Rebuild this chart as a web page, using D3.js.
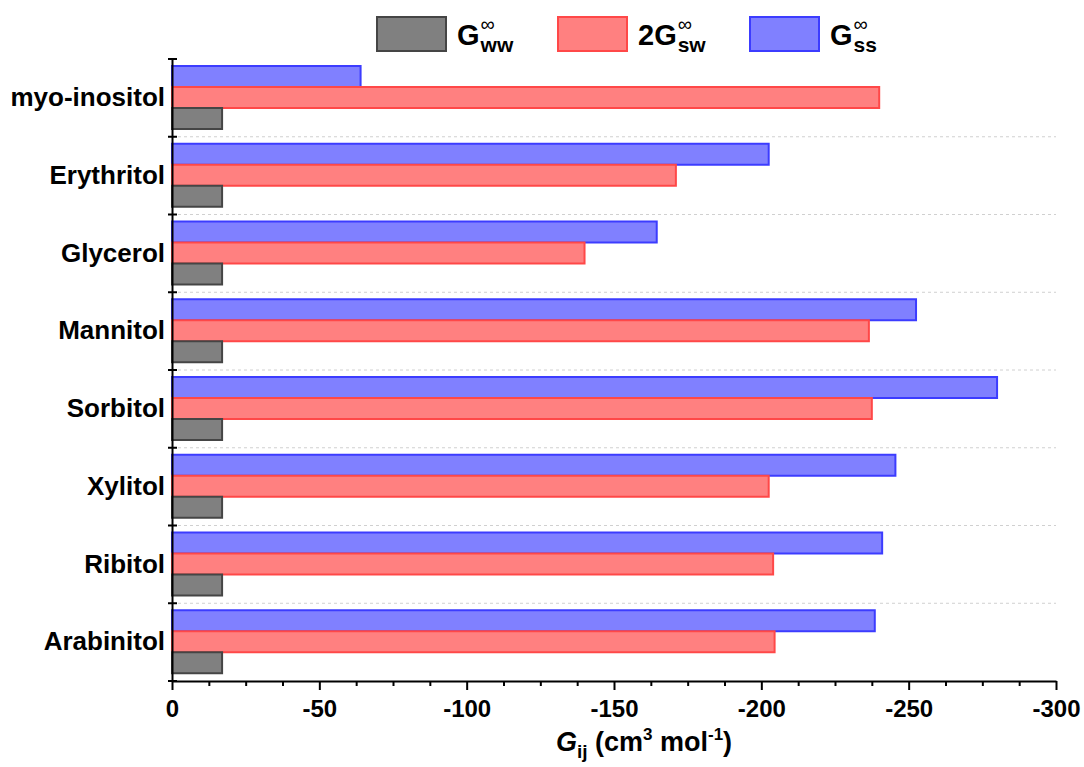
<!DOCTYPE html>
<html lang="en">
<head>
    <meta charset="UTF-8">
    <title>Kirkwood-Buff integrals</title>
    <script src="https://d3js.org/d3.v7.min.js"></script>
    <style>
        body { margin: 0; background: #fff; }
        text { font-family: "Liberation Sans", Arial, sans-serif; font-weight: bold; fill: #000; }
        .axis path, .axis line { stroke: #000; stroke-width: 2px; }
        .grid { stroke: #d0d0d0; stroke-width: 1px; stroke-dasharray: 3,3; }
    </style>
</head>
<body>
    <svg width="1084" height="767"></svg>
    <script>
        // values (cm3/mol)
        const categories = ["myo-inositol", "Erythritol", "Glycerol", "Mannitol", "Sorbitol", "Xylitol", "Ribitol", "Arabinitol"];
        const gww = [-17, -17, -17, -17, -17, -17, -17, -17];
        const gsw2 = [-240, -171, -140, -236.5, -237.5, -202.5, -204, -204.5];
        const gss = [-64, -202.5, -164.5, -252.5, -280, -245.5, -241, -238.5];
        const xTicks = [0, -50, -100, -150, -200, -250, -300];

        const series = [
            { key: "ss", values: gss, fill: "#8080ff", stroke: "#3c3cff" },
            { key: "sw", values: gsw2, fill: "#ff8080", stroke: "#ff4848" },
            { key: "ww", values: gww, fill: "#808080", stroke: "#454545" }
        ];

        const svg = d3.select("svg");
        const mLeft = 172, mRight = 1056, mTop = 59, mBottom = 681;

        const x = d3.scaleLinear().domain([0, -300]).range([mLeft, mRight]);
        const y = d3.scaleBand().domain(categories).range([mTop, mBottom]).padding(0);
        const inner = d3.scaleBand().domain(series.map(s => s.key)).range([7, 70]);

        // dotted separators between categories
        svg.append("g").selectAll("line")
            .data(categories.slice(1))
            .join("line")
            .attr("class", "grid")
            .attr("x1", mLeft).attr("x2", mRight)
            .attr("y1", d => y(d)).attr("y2", d => y(d));

        // bars
        series.forEach(s => {
            svg.append("g").selectAll("rect")
                .data(categories)
                .join("rect")
                .attr("x", mLeft)
                .attr("y", d => y(d) + inner(s.key))
                .attr("width", (d, i) => x(s.values[i]) - mLeft)
                .attr("height", inner.bandwidth())
                .attr("fill", s.fill)
                .attr("stroke", s.stroke)
                .attr("stroke-width", 2);
        });

        // x axis, major + minor ticks
        const minor = d3.range(0, -300.1, -12.5).filter(v => v % 50 !== 0);
        svg.append("g")
            .attr("class", "axis")
            .attr("transform", `translate(0,${mBottom})`)
            .call(d3.axisBottom(x).tickValues(minor).tickSize(5).tickFormat(""))
            .call(g => g.select(".domain").remove());
        svg.append("g")
            .attr("class", "axis")
            .attr("transform", `translate(0,${mBottom})`)
            .call(d3.axisBottom(x).tickValues(xTicks).tickSize(9).tickSizeOuter(0).tickPadding(7)
                .tickFormat(d => String(d)))
            .call(g => g.selectAll("text").style("font-size", "24px").attr("dy", "0.85em"));

        // y axis: labels centred on bands, ticks on band edges
        svg.append("g")
            .attr("class", "axis")
            .attr("transform", `translate(${mLeft},0)`)
            .call(d3.axisLeft(y).tickSize(0).tickPadding(7).tickSizeOuter(0))
            .call(g => g.selectAll("text").style("font-size", "26px"));
        svg.append("g").selectAll("line")
            .data(categories.map(c => y(c)).concat([mBottom]))
            .join("line")
            .attr("x1", mLeft - 4).attr("x2", mLeft + 5)
            .attr("y1", d => d).attr("y2", d => d)
            .attr("stroke", "#000").attr("stroke-width", 2);

        // axis title
        const title = svg.append("text")
            .attr("x", 644)
            .attr("y", 751)
            .attr("text-anchor", "middle")
            .style("font-size", "27px");
        title.append("tspan").style("font-style", "italic").text("G");
        title.append("tspan").attr("dy", 7).style("font-size", "19px").text("ij");
        title.append("tspan").attr("dy", -7).text(" (cm");
        title.append("tspan").attr("dy", -11).style("font-size", "17px").text("3");
        title.append("tspan").attr("dy", 11).text(" mol");
        title.append("tspan").attr("dy", -11).style("font-size", "17px").text("-1");
        title.append("tspan").attr("dy", 11).text(")");

        // legend
        const legendItems = [
            { x: 377, prefix: "G", sub: "ww", fill: "#808080", stroke: "#454545" },
            { x: 558, prefix: "2G", sub: "sw", fill: "#ff8080", stroke: "#ff4848" },
            { x: 750, prefix: "G", sub: "ss", fill: "#8080ff", stroke: "#3c3cff" }
        ];
        const leg = svg.append("g").selectAll("g")
            .data(legendItems)
            .join("g")
            .attr("transform", d => `translate(${d.x},17)`);
        leg.append("rect")
            .attr("width", 69).attr("height", 34)
            .attr("fill", d => d.fill)
            .attr("stroke", d => d.stroke)
            .attr("stroke-width", 2);
        leg.each(function(d) {
            const g = d3.select(this);
            const t = g.append("text")
                .attr("x", 80).attr("y", 28)
                .style("font-size", "29px")
                .text(d.prefix);
            const w = t.node().getComputedTextLength();
            g.append("text")
                .attr("x", 80 + w + 1).attr("y", 14)
                .style("font-size", "20px").style("font-weight", "normal")
                .text("\u221e");
            g.append("text")
                .attr("x", 80 + w + 1).attr("y", 35)
                .style("font-size", "21px")
                .text(d.sub);
        });
    </script>
</body>
</html>
